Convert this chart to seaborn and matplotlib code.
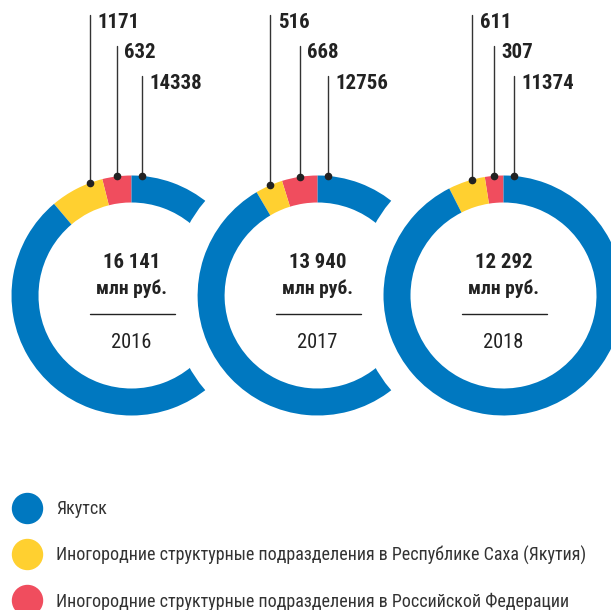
import numpy as np
import matplotlib
matplotlib.use("Agg")
import matplotlib.pyplot as plt
from matplotlib import font_manager
from matplotlib.lines import Line2D
from matplotlib.patches import Circle
import seaborn as sns

# data
years = ["2016", "2017", "2018"]
yakutsk = [14338, 12756, 11374]
saha = [1171, 516, 611]
russia = [632, 668, 307]
totals = ["16 141", "13 940", "12 292"]
legend_labels = ["Якутск",
                 "Иногородние структурные подразделения в Республике Саха (Якутия)",
                 "Иногородние структурные подразделения в Российской Федерации"]

BLUE = "#0078C0"
YELLOW = "#FFD030"
RED = "#F04D5E"
DARK = "#222222"

sns.set_theme(style="white")
names = {f.name for f in font_manager.fontManager.ttflist}
font = next((f for f in ["Roboto Condensed", "Liberation Sans Narrow", "Roboto"] if f in names), "DejaVu Sans")
plt.rcParams["font.family"] = [font, "DejaVu Sans"]

W, H = 611, 610
fig = plt.figure(figsize=(W / 100, H / 100), dpi=100)
ax = fig.add_axes([0, 0, 1, 1])

def Y(y):
    return H - y

R = 120
ring = 27
cy = 295.5
centers = [131.5, 317.6, 503.5]

for i, yr in enumerate(years):
    cx = centers[i]
    z = 2 * i + 1
    if i > 0:
        # white gap where the next ring overlaps the previous one
        ax.add_patch(Circle((cx, Y(cy)), R + 27, color="white", zorder=z - 0.5, lw=0))
    vals = [russia[i], saha[i], yakutsk[i]]
    ax.pie(vals, colors=[RED, YELLOW, BLUE], startangle=90, counterclock=True,
           radius=R, center=(cx, Y(cy)),
           wedgeprops=dict(width=ring, linewidth=0, zorder=z))

    total = sum(vals)
    r_end = 90 + 360 * russia[i] / total
    dot_angles = [r_end + 6, (90 + r_end) / 2, 85]
    label_base = [28, 58.5, 89]
    for ang, txt, yb in zip(dot_angles, [saha[i], russia[i], yakutsk[i]], label_base):
        a = np.deg2rad(ang)
        dx = cx + R * np.cos(a)
        dy = Y(cy) + R * np.sin(a)
        ax.plot([dx, dx], [dy, Y(yb - 13)], color="#333333", lw=1.0, zorder=20)
        ax.plot(dx, dy, "o", color=DARK, ms=4.5, zorder=21)
        ax.text(dx + 7.5, Y(yb), str(txt), fontsize=15, fontweight="bold",
                color=DARK, ha="left", va="baseline", zorder=21)

    ax.text(cx, Y(268), totals[i], fontsize=15, fontweight="bold", color=DARK,
            ha="center", va="baseline", zorder=30)
    ax.text(cx, Y(293.5), "млн руб.", fontsize=14, fontweight="bold", color=DARK,
            ha="center", va="baseline", zorder=30)
    ax.plot([cx - 42, cx + 43], [Y(313.7), Y(313.7)], color=DARK, lw=1.0, zorder=30)
    ax.text(cx, Y(347.7), yr, fontsize=14.8, color=DARK,
            ha="center", va="baseline", zorder=30)

ax.set_xlim(0, W)
ax.set_ylim(0, H)
ax.set_aspect("equal")
ax.axis("off")

handles = [Line2D([], [], marker="o", ls="", ms=21.6, color=c) for c in [BLUE, YELLOW, RED]]
fig.legend(handles, legend_labels, loc="upper left", bbox_to_anchor=(12 / W, 1 - 500 / H),
           frameon=False, fontsize=13, handlelength=1.65, handletextpad=0.8,
           labelspacing=1.53, borderpad=0, borderaxespad=0, labelcolor="#333333")

fig.savefig("out.png", dpi=100, facecolor="white")
